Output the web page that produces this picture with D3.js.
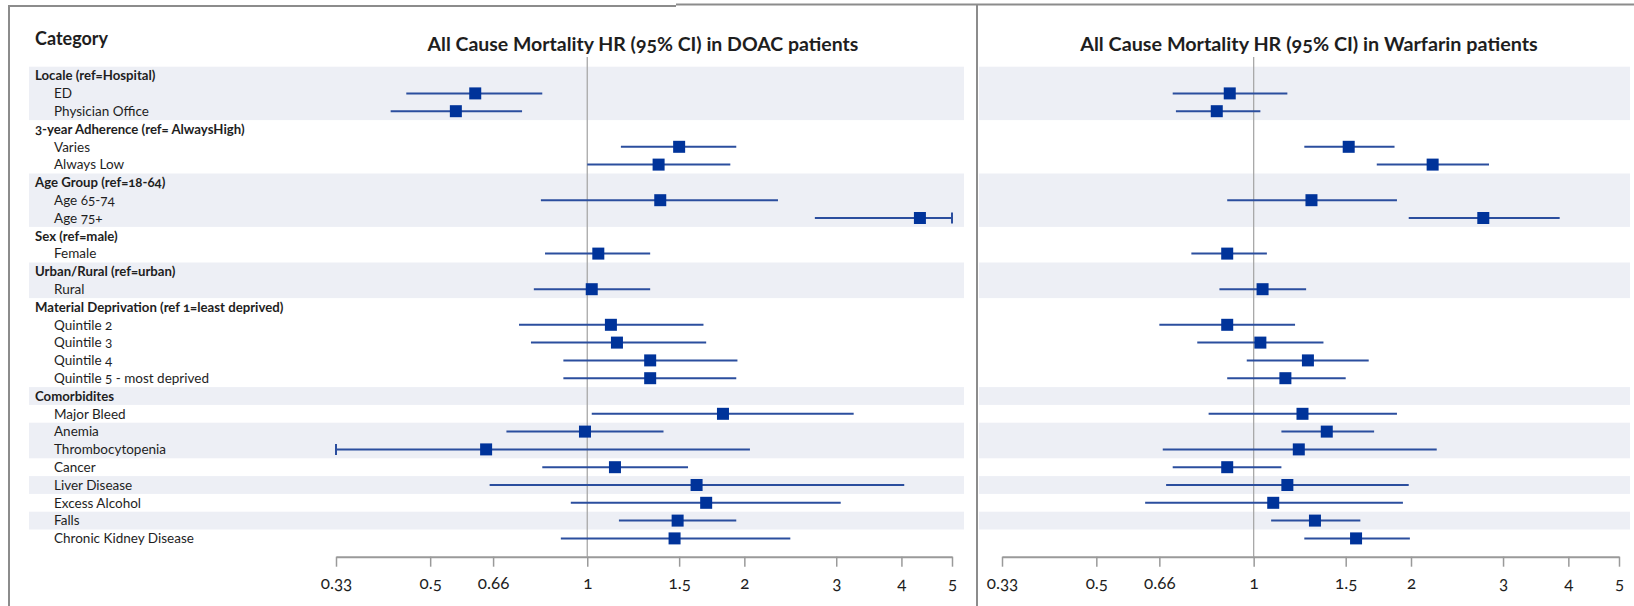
<!DOCTYPE html>
<html>
<head>
<meta charset="utf-8">
<script src="https://cdn.jsdelivr.net/npm/d3@7"></script>
<style>
  html, body { margin: 0; padding: 0; background: #fff; }
  svg { display: block; font-family: Lato, "Open Sans", sans-serif; }
  .onum { font-variant-numeric: oldstyle-nums; }
</style>
</head>
<body>
<svg id="chart" width="1634" height="606"></svg>
<script>
// ---------- DATA ----------
const rowLabels = [
  "Locale (ref=Hospital)", "ED", "Physician Office",
  "3-year Adherence (ref= AlwaysHigh)", "Varies", "Always Low",
  "Age Group (ref=18-64)", "Age 65-74", "Age 75+",
  "Sex (ref=male)", "Female",
  "Urban/Rural (ref=urban)", "Rural",
  "Material Deprivation (ref 1=least deprived)", "Quintile 2", "Quintile 3", "Quintile 4", "Quintile 5 - most deprived",
  "Comorbidites", "Major Bleed", "Anemia", "Thrombocytopenia", "Cancer", "Liver Disease", "Excess Alcohol", "Falls", "Chronic Kidney Disease"
];
const rowIsHeader = [1,0,0, 1,0,0, 1,0,0, 1,0, 1,0, 1,0,0,0,0, 1,0,0,0,0,0,0,0,0];
// consecutive row blocks that share one background (alternating shaded / white)
const rowBlocks = [3,3,3,2,2,5,1,1,2,1,1,1,1,1];

const items = ["ED","Physician Office","Varies","Always Low","Age 65-74","Age 75+","Female","Rural",
  "Quintile 2","Quintile 3","Quintile 4","Quintile 5 - most deprived","Major Bleed","Anemia",
  "Thrombocytopenia","Cancer","Liver Disease","Excess Alcohol","Falls","Chronic Kidney Disease"];

const doacHR = [0.61,0.56,1.50,1.37,1.38,4.34,1.05,1.02,1.11,1.14,1.32,1.32,1.82,0.99,0.64,1.13,1.62,1.69,1.49,1.47];
const doacLo = [0.45,0.42,1.16,1.00,0.815,2.73,0.83,0.79,0.74,0.78,0.90,0.90,1.02,0.70,0.31,0.82,0.65,0.93,1.15,0.89];
const doacHi = [0.82,0.75,1.93,1.88,2.32,5.6,1.32,1.32,1.67,1.69,1.94,1.93,3.24,1.40,2.05,1.56,4.05,3.06,1.93,2.45];

const warfHR = [0.90,0.85,1.52,2.20,1.29,2.75,0.89,1.04,0.89,1.03,1.27,1.15,1.24,1.38,1.22,0.89,1.16,1.09,1.31,1.57];
const warfLo = [0.70,0.71,1.25,1.72,0.89,1.98,0.76,0.86,0.66,0.78,0.97,0.89,0.82,1.13,0.67,0.70,0.68,0.62,1.08,1.25];
const warfHi = [1.16,1.03,1.86,2.82,1.88,3.85,1.06,1.26,1.20,1.36,1.66,1.50,1.88,1.70,2.24,1.13,1.98,1.93,1.60,1.99];

const tickValues = [0.33, 0.5, 0.66, 1, 1.5, 2, 3, 4, 5];
const tickLabels = ["0.33", "0.5", "0.66", "1", "1.5", "2", "3", "4", "5"];

const columnTitle = "Category";
const panelTitles = ["All Cause Mortality HR (95% CI) in DOAC patients",
                     "All Cause Mortality HR (95% CI) in Warfarin patients"];

// ---------- LAYOUT ----------
const svg = d3.select("#chart");
const rowTop = 66.7, rowH = 17.8;
const y = d3.scaleBand().domain(d3.range(rowLabels.length))
  .range([rowTop, rowTop + rowH * rowLabels.length]).padding(0);
const axisY = 556.7;
const bandFill = "#edeff5";
const lineColor = "#2b4e9e";
const boxColor = "#00339a";
const textColor = "#1e1e1e";

const panels = [
  { title: panelTitles[0], hr: doacHR, lo: doacLo, hi: doacHi, range: [336, 952], band: [29, 964], titleX: 643, titleW: 431 },
  { title: panelTitles[1], hr: warfHR, lo: warfLo, hi: warfHi, range: [1002, 1619], band: [979, 1630], titleX: 1309, titleW: 458 }
];

// background bands
let start = 0;
const blocks = rowBlocks.map((n, i) => { const b = { start, n, shaded: i % 2 === 0 }; start += n; return b; });
panels.forEach(p => {
  svg.append("g").selectAll("rect").data(blocks.filter(b => b.shaded)).join("rect")
    .attr("x", p.band[0]).attr("width", p.band[1] - p.band[0])
    .attr("y", b => y(b.start)).attr("height", b => rowH * b.n)
    .attr("fill", bandFill);
});

// frame lines
const frame = svg.append("g").attr("stroke", "#8c8c8c").attr("stroke-width", 2).attr("fill", "none");
frame.append("path").attr("d", "M9,606 V6 H676");
frame.append("path").attr("d", "M676,4.5 H1634 M977,4.5 V606");

// row labels
svg.append("text").attr("x", 35).attr("y", 45).attr("font-size", 18).attr("font-weight", 700)
  .attr("fill", textColor).text(columnTitle);
svg.append("g").selectAll("text").data(rowLabels).join("text")
  .attr("x", (d, i) => rowIsHeader[i] ? 35 : 54)
  .attr("y", (d, i) => y(i) + rowH / 2 + 4.8)
  .attr("font-size", (d, i) => rowIsHeader[i] ? 13.2 : 13.5)
  .attr("font-weight", (d, i) => rowIsHeader[i] ? 700 : 400)
  .attr("fill", textColor)
  .attr("class", "onum")
  .text(d => d);

const itemRow = items.map(name => rowLabels.indexOf(name));

panels.forEach(p => {
  const x = d3.scaleLog().domain([0.33, 5]).range(p.range).clamp(true);
  const g = svg.append("g");

  // title (font size fitted to the reference title width)
  const t = g.append("text").attr("x", p.titleX).attr("y", 51).attr("text-anchor", "middle")
    .attr("font-size", 18).attr("font-weight", 700).attr("fill", textColor).attr("class", "onum")
    .text(p.title);
  const w = t.node().getComputedTextLength();
  if (w > 0) t.attr("font-size", 18 * p.titleW / w);

  // reference line at 1
  g.append("line").attr("x1", x(1)).attr("x2", x(1)).attr("y1", 57).attr("y2", axisY)
    .attr("stroke", "#a8a8a8").attr("stroke-width", 1.3);

  // axis
  const axis = d3.axisBottom(x).tickValues(tickValues)
    .tickFormat((d, i) => tickLabels[i]).tickSize(10).tickSizeOuter(0);
  const ax = g.append("g").attr("transform", `translate(0,${axisY})`).call(axis);
  ax.select(".domain").attr("stroke", "#9a9a9a").attr("stroke-width", 2);
  ax.selectAll(".tick line").attr("stroke", "#9a9a9a").attr("stroke-width", 1.5);
  ax.selectAll(".tick text").attr("font-size", 17).attr("fill", textColor)
    .attr("font-family", "Lato, 'Open Sans', sans-serif").attr("class", "onum").attr("dy", "1.15em");

  // CI lines
  const rows = items.map((name, i) => ({ row: itemRow[i], hr: p.hr[i], lo: p.lo[i], hi: p.hi[i] }));
  const cy = d => y(d.row) + rowH / 2;
  g.append("g").selectAll("line").data(rows).join("line")
    .attr("x1", d => x(d.lo)).attr("x2", d => x(d.hi))
    .attr("y1", cy).attr("y2", cy)
    .attr("stroke", lineColor).attr("stroke-width", 2);

  // caps where the interval is cut by the axis range
  const [dmin, dmax] = x.domain();
  const caps = [];
  rows.forEach(d => {
    if (d.lo < dmin) caps.push({ v: dmin, row: d.row });
    if (d.hi > dmax) caps.push({ v: dmax, row: d.row });
  });
  g.append("g").selectAll("line").data(caps).join("line")
    .attr("x1", d => x(d.v)).attr("x2", d => x(d.v))
    .attr("y1", d => cy(d) - 5.5).attr("y2", d => cy(d) + 5.5)
    .attr("stroke", lineColor).attr("stroke-width", 2);

  // point estimates
  const s = 12;
  g.append("g").selectAll("rect").data(rows).join("rect")
    .attr("x", d => x(d.hr) - s / 2).attr("y", d => cy(d) - s / 2)
    .attr("width", s).attr("height", s).attr("fill", boxColor);
});
</script>
</body>
</html>
